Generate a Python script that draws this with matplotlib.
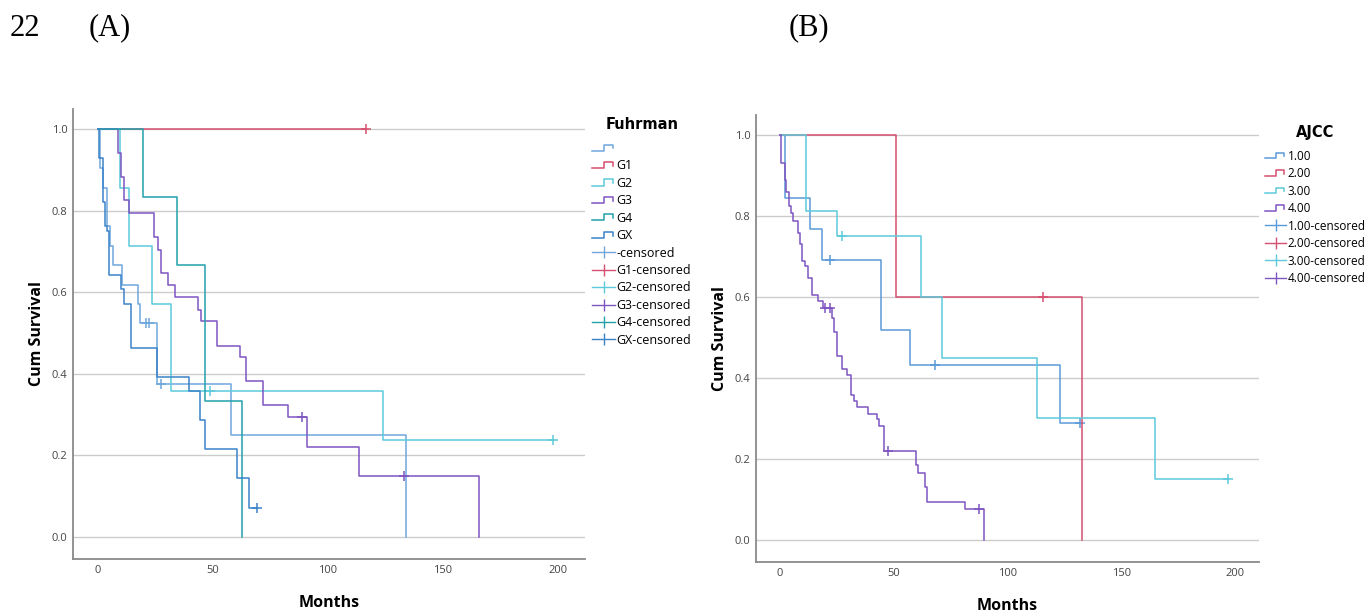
import numpy as np
import matplotlib
matplotlib.use('Agg')
import matplotlib.pyplot as plt
from matplotlib.lines import Line2D
from matplotlib.legend_handler import HandlerBase

# ---- Fuhrman (A): step times (months), survival levels, censor times ----
fu_names = ['', 'G1', 'G2', 'G3', 'G4', 'GX']
fu_t = [
    [0, 0.8, 2.2, 3.8, 5.2, 6.4, 10.3, 17.5, 18.3, 25.5, 57.7, 134.0],
    [0],
    [0, 9.6, 13.5, 23.3, 31.6, 123.8],
    [0, 8.6, 10.0, 11.4, 13.5, 24.5, 25.9, 27.4, 30.6, 33.5, 43.3, 44.6,
     51.6, 61.7, 64.3, 71.6, 82.8, 90.7, 113.6, 165.8],
    [0, 19.4, 34.5, 46.4, 62.5],
    [0, 0.6, 2.3, 3.0, 4.1, 4.8, 10.0, 11.4, 14.3, 25.5, 39.6, 44.3, 46.5,
     60.3, 65.7],
]
fu_s = [
    [1.0, 0.905, 0.857, 0.762, 0.714, 0.667, 0.619, 0.571, 0.524, 0.375, 0.25, 0.0],
    [1.0],
    [1.0, 0.857, 0.714, 0.571, 0.357, 0.238],
    [1.0, 0.942, 0.883, 0.826, 0.794, 0.735, 0.705, 0.647, 0.618, 0.588, 0.557,
     0.529, 0.469, 0.441, 0.383, 0.324, 0.294, 0.221, 0.148, 0.0],
    [1.0, 0.833, 0.667, 0.333, 0.0],
    [1.0, 0.929, 0.821, 0.762, 0.75, 0.643, 0.607, 0.571, 0.464, 0.393, 0.357,
     0.286, 0.214, 0.143, 0.071],
]
fu_cens = [[20.9, 22.3, 27.4], [116.5], [48.7, 198.0], [88.8, 133.0], [], [69.0]]

# ---- AJCC (B) ----
aj_names = ['1.00', '2.00', '3.00', '4.00']
aj_t = [
    [0, 2.2, 13.2, 18.3, 44.3, 57.1, 123.0],
    [0, 51.0, 132.9],
    [0, 11.3, 25.2, 62.0, 71.1, 112.8, 164.8],
    [0, 0.3, 0.7, 2.2, 2.9, 4.0, 4.8, 5.9, 7.8, 8.8, 9.8, 11.0, 12.5, 13.9,
     16.8, 19.0, 23.0, 23.9, 24.9, 27.1, 29.7, 31.3, 32.7, 33.9, 38.8, 42.6,
     43.6, 45.8, 59.8, 60.5, 63.7, 64.8, 81.4, 89.7],
]
aj_s = [
    [1.0, 0.846, 0.769, 0.692, 0.519, 0.433, 0.289],
    [1.0, 0.6, 0.0],
    [1.0, 0.813, 0.75, 0.6, 0.45, 0.3, 0.15],
    [1.0, 0.945, 0.931, 0.889, 0.859, 0.826, 0.807, 0.789, 0.759, 0.731,
     0.689, 0.676, 0.646, 0.605, 0.591, 0.573, 0.547, 0.514, 0.454, 0.421,
     0.407, 0.359, 0.342, 0.327, 0.312, 0.298, 0.281, 0.219, 0.184, 0.166,
     0.130, 0.093, 0.075, 0.0],
]
aj_cens = [[22.0, 68.1, 131.9], [115.7], [27.1, 196.8], [19.8, 22.0, 47.7, 87.5]]

fu_colors = ['#6fa7dc', '#d5506f', '#5ccadb', '#7e55c0', '#23a0aa', '#3a83c9']
aj_colors = ['#5a9ad8', '#d5506f', '#5ccadb', '#7e55c0']


class HandlerStep(HandlerBase):
    def create_artists(self, legend, orig_handle, xdescent, ydescent,
                       width, height, fontsize, trans):
        xs = np.array([0, 0.5, 0.5, 0.92, 0.92]) * width - xdescent
        ys = np.array([0.15, 0.15, 0.85, 0.85, 0.4]) * height - ydescent
        ln = Line2D(xs, ys, color=orig_handle.get_color(), lw=1.1)
        ln.set_transform(trans)
        return [ln]


def km_panel(ax, names, tt, ss, cens, colors, title, leg_anchor, leg_size, lsp):
    step_h, cens_h = [], []
    for t, s, c, col in zip(tt, ss, cens, colors):
        t = list(t)
        s = list(s)
        end = max([t[-1]] + c)
        x = t + [end]
        y = s + [s[-1]]
        ax.plot(x, y, drawstyle='steps-post', color=col, lw=1.1)
        if c:
            idx = np.searchsorted(t, c, side='right') - 1
            ax.plot(c, np.array(s)[idx], ls='none', marker='+', ms=6.5,
                    mew=1.1, color=col)
        step_h.append(Line2D([], [], color=col))
        cens_h.append(Line2D([], [], color=col, marker='|', ms=8, mew=1, lw=1))
    labels = list(names) + [n + '-censored' for n in names]
    handles = step_h + cens_h
    hmap = {h: HandlerStep() for h in step_h}
    leg = ax.legend(handles, labels, handler_map=hmap, loc='upper left',
                    bbox_to_anchor=leg_anchor, bbox_transform=ax.figure.transFigure,
                    frameon=False, title=title, handlelength=1.8,
                    handletextpad=0.15, labelspacing=lsp, borderpad=0,
                    prop={'family': 'Open Sans', 'size': leg_size},
                    title_fontproperties={'family': 'DejaVu Sans', 'size': 10.5,
                                          'weight': 'bold'})
    leg._legend_box.sep = 7

    ax.set_ylim(-0.055, 1.05)
    ax.set_xticks([0, 50, 100, 150, 200])
    ax.set_yticks([0, 0.2, 0.4, 0.6, 0.8, 1.0])
    ax.set_yticklabels(['0.0', '0.2', '0.4', '0.6', '0.8', '1.0'])
    ax.yaxis.grid(True, color='#cccccc', lw=1)
    ax.set_axisbelow(True)
    for sp in ['top', 'right']:
        ax.spines[sp].set_visible(False)
    for sp in ['left', 'bottom']:
        ax.spines[sp].set_color('#8a8a8a')
        ax.spines[sp].set_linewidth(1.3)
    ax.tick_params(length=0, labelsize=8, labelcolor='#444444', pad=4)
    for lab in ax.get_xticklabels() + ax.get_yticklabels():
        lab.set_family('Open Sans')
    ax.set_xlabel('Months', fontsize=11.5, fontweight='bold',
                  family='Open Sans', labelpad=14)
    ax.set_ylabel('Cum Survival', fontsize=11.5, fontweight='bold',
                  family='Open Sans', labelpad=5)


fig = plt.figure(figsize=(13.71, 6.13), dpi=100)
ax1 = fig.add_axes([0.0532, 0.0881, 0.3735, 0.734])
ax2 = fig.add_axes([0.5514, 0.0832, 0.3669, 0.7292])

km_panel(ax1, fu_names, fu_t, fu_s, fu_cens, fu_colors, 'Fuhrman',
         (586 / 1371, 1 - 111 / 613), 9, 0.355)
ax1.set_xlim(-10.9, 211.7)

km_panel(ax2, aj_names, aj_t, aj_s, aj_cens, aj_colors, 'AJCC',
         (1259 / 1371, 1 - 119 / 613), 8.5, 0.38)
ax2.set_xlim(-10.5, 210.5)

serif = {'family': 'Liberation Serif', 'size': 22}
fig.text(10 / 1371, 1 - 28 / 613, '22', va='center', **serif)
fig.text(89 / 1371, 1 - 28 / 613, '(A)', va='center', **serif)
fig.text(789 / 1371, 1 - 28 / 613, '(B)', va='center', **serif)

fig.savefig('out.png', dpi=100)
